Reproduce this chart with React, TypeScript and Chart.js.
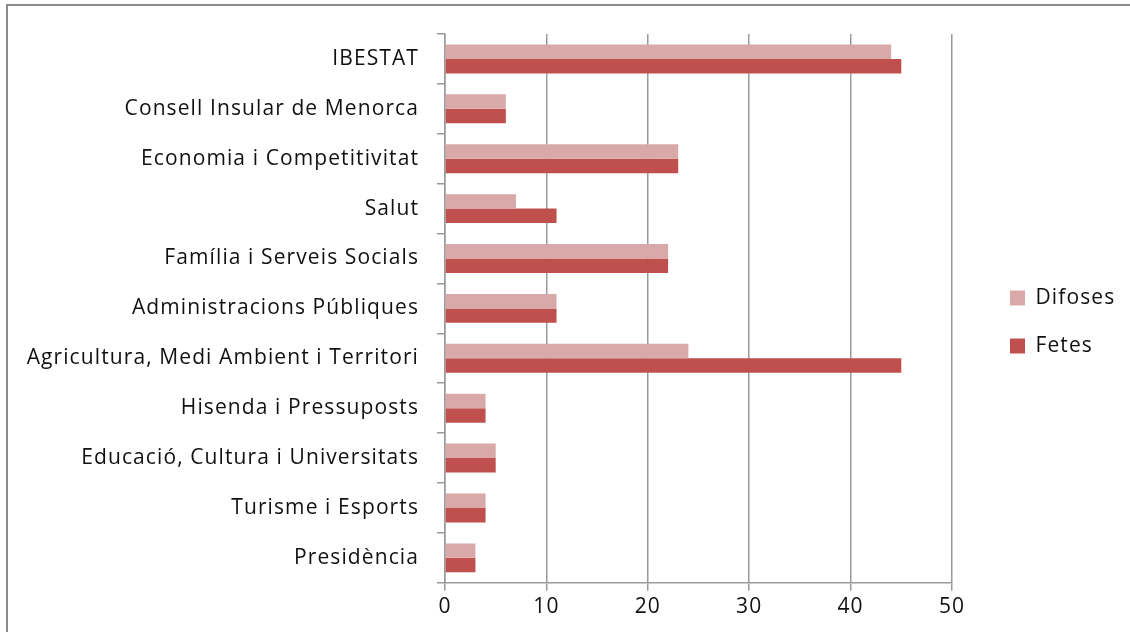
import React, { useEffect, useRef } from "react";
import { Chart, registerables } from "chart.js";

Chart.register(...registerables);

const categories = [
  "IBESTAT",
  "Consell Insular de Menorca",
  "Economia i Competitivitat",
  "Salut",
  "Família i Serveis Socials",
  "Administracions Públiques",
  "Agricultura, Medi Ambient i Territori",
  "Hisenda i Pressuposts",
  "Educació, Cultura i Universitats",
  "Turisme i Esports",
  "Presidència",
];
const difoses = [44, 6, 23, 7, 22, 11, 24, 4, 5, 4, 3];
const fetes = [45, 6, 23, 11, 22, 11, 45, 4, 5, 4, 3];
const xTicks = [0, 10, 20, 30, 40, 50];

const FONT = "'Open Sans'";
const FS = 21;
const LETTER = "1.1px";

const spacingPlugin = {
  id: "spacing",
  beforeInit(chart: any) {
    const legend = chart.legend;
    if (legend) {
      const orig = legend.fit;
      legend.fit = function () {
        orig.call(this);
        this.width = 178;
      };
    }
  },
  beforeLayout(chart: any) {
    chart.ctx.letterSpacing = LETTER;
  },
  afterLayout(chart: any) {
    const legend = chart.legend;
    if (legend) {
      legend.left += 31;
      legend.right += 31;
      legend.top -= 7;
      legend.bottom -= 7;
    }
  },
  beforeDraw(chart: any) {
    chart.ctx.letterSpacing = LETTER;
  },
};

export default function App() {
  const ref = useRef<HTMLCanvasElement | null>(null);

  useEffect(() => {
    document.body.style.margin = "0";
    const ctx = ref.current;
    if (!ctx) return;
    const chart = new Chart(ctx, {
      type: "bar",
      data: {
        labels: categories,
        datasets: [
          {
            label: "Difoses",
            data: difoses,
            backgroundColor: "#D9A8A8",
            borderWidth: 0,
            categoryPercentage: 0.58,
            barPercentage: 1,
          },
          {
            label: "Fetes",
            data: fetes,
            backgroundColor: "#C0504D",
            borderWidth: 0,
            categoryPercentage: 0.58,
            barPercentage: 1,
          },
        ],
      },
      plugins: [spacingPlugin],
      options: {
        indexAxis: "y",
        animation: false,
        responsive: false,
        maintainAspectRatio: false,
        layout: { padding: { top: 34, bottom: 8, left: 0, right: 0 } },
        plugins: {
          tooltip: { enabled: false },
          legend: {
            position: "right",
            align: "center",
            labels: {
              font: { family: FONT, size: FS },
              color: "#111",
              boxWidth: 15,
              boxHeight: 15,
              padding: 27,
            },
          },
        },
        scales: {
          x: {
            min: 0,
            max: 50,
            afterBuildTicks: (axis: any) => {
              axis.ticks = xTicks.map((v) => ({ value: v }));
            },
            grid: {
              color: "#9a9a9a",
              lineWidth: 1.5,
              tickLength: 8,
              drawTicks: true,
            },
            border: { color: "#9a9a9a", width: 1.5 },
            ticks: {
              font: { family: FONT, size: FS },
              color: "#111",
              padding: 4,
            },
          },
          y: {
            afterFit: (axis: any) => {
              axis.width = 445;
            },
            grid: {
              drawOnChartArea: false,
              drawTicks: true,
              tickLength: 8,
              color: "#9a9a9a",
              lineWidth: 1.5,
              offset: true,
            },
            border: { color: "#9a9a9a", width: 1.5 },
            ticks: {
              font: { family: FONT, size: FS },
              color: "#111",
              padding: 18,
              autoSkip: false,
            },
          },
        },
      },
    } as any);
    return () => chart.destroy();
  }, []);

  return (
    <div style={{ position: "relative", width: 1130, height: 632, overflow: "hidden", background: "#fff" }}>
      <div
        style={{
          position: "absolute",
          left: 6,
          top: 4,
          width: 1140,
          height: 660,
          border: "2px solid #8a8a8a",
          boxSizing: "border-box",
        }}
      />
      <canvas
        ref={ref}
        width={1130}
        height={632}
        style={{ position: "absolute", left: 0, top: 0, width: 1130, height: 632 }}
      />
    </div>
  );
}
